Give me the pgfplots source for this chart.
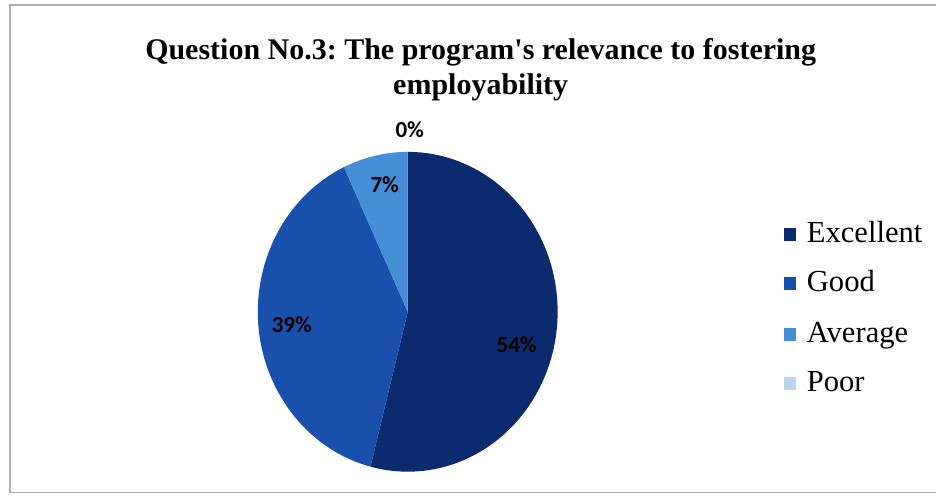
\documentclass[border=0pt]{standalone}
\usepackage{pgfplots}
\pgfplotsset{compat=1.18}
\usepackage{pgfplotstable}
\usepackage{fontspec}
\setmainfont{Liberation Serif}
\newfontfamily\calibri{Carlito}
\frenchspacing
\definecolor{cExc}{RGB}{12,42,110}
\definecolor{cGood}{RGB}{24,80,172}
\definecolor{cAvg}{RGB}{70,142,214}
\definecolor{cPoor}{RGB}{188,212,236}
\definecolor{frame}{RGB}{175,175,175}
\pgfplotstableread{
label value
Excellent 54
Good 39
Average 7
Poor 0
}\piedata
\begin{document}
\begin{tikzpicture}
\pgfplotstablegetelem{0}{value}\of\piedata\let\va\pgfplotsretval
\pgfplotstablegetelem{1}{value}\of\piedata\let\vb\pgfplotsretval
\pgfplotstablegetelem{2}{value}\of\piedata\let\vc\pgfplotsretval
\pgfplotstablegetelem{3}{value}\of\piedata\let\vd\pgfplotsretval
\pgfmathsetmacro\aA{90}
\pgfmathsetmacro\aB{\aA-3.6*\va}
\pgfmathsetmacro\aC{\aB-3.6*\vb}
\pgfmathsetmacro\aD{\aC-3.6*\vc}
\begin{axis}[width=468.5pt,height=251pt,scale only axis,
  xmin=0,xmax=937,ymin=0,ymax=502,hide axis,clip=false]
\addplot[draw=none] coordinates {(0,0) (937,502)};
% frame
\draw[frame,line width=0.6pt] (axis cs:10,9) -- (axis cs:10,497) -- (axis cs:937,497);
\draw[frame,line width=0.6pt] (axis cs:10,9) -- (axis cs:937,9);
% pie
\fill[cExc] (axis cs:408,190) -- ++(\aA:75pt and 80pt) arc[start angle=\aA,end angle=\aB,x radius=75pt,y radius=80pt] -- cycle;
\fill[cGood] (axis cs:408,190) -- ++(\aB:75pt and 80pt) arc[start angle=\aB,end angle=\aC,x radius=75pt,y radius=80pt] -- cycle;
\fill[cAvg] (axis cs:408,190) -- ++(\aC:75pt and 80pt) arc[start angle=\aC,end angle=\aD,x radius=75pt,y radius=80pt] -- cycle;
% labels
\node[font=\calibri\bfseries\fontsize{11.5}{13}\selectfont] at (axis cs:517,157) {\va\%};
\node[font=\calibri\bfseries\fontsize{11.5}{13}\selectfont] at (axis cs:292,177) {\vb\%};
\node[font=\calibri\bfseries\fontsize{11.5}{13}\selectfont] at (axis cs:385,317) {\vc\%};
\node[font=\calibri\bfseries\fontsize{11.5}{13}\selectfont] at (axis cs:410,372) {\vd\%};
% title
\node[font=\bfseries\fontsize{15}{18}\selectfont] at (axis cs:481,450) {Question No.3: The program\textquotesingle s relevance to fostering};
\node[font=\bfseries\fontsize{15}{18}\selectfont] at (axis cs:481,415) {employability};
% legend
\fill[cExc] (axis cs:784,261) rectangle (axis cs:797,274);
\fill[cGood] (axis cs:784,212) rectangle (axis cs:797,225);
\fill[cAvg] (axis cs:784,161) rectangle (axis cs:797,174);
\fill[cPoor] (axis cs:784,112) rectangle (axis cs:797,125);
\node[anchor=base west,font=\fontsize{15.3}{18}\selectfont,inner sep=0pt] at (axis cs:807,259) {Excellent};
\node[anchor=base west,font=\fontsize{15.3}{18}\selectfont,inner sep=0pt] at (axis cs:807,210) {Good};
\node[anchor=base west,font=\fontsize{15.3}{18}\selectfont,inner sep=0pt] at (axis cs:807,159) {Average};
\node[anchor=base west,font=\fontsize{15.3}{18}\selectfont,inner sep=0pt] at (axis cs:807,110) {Poor};
\end{axis}
\end{tikzpicture}
\end{document}
